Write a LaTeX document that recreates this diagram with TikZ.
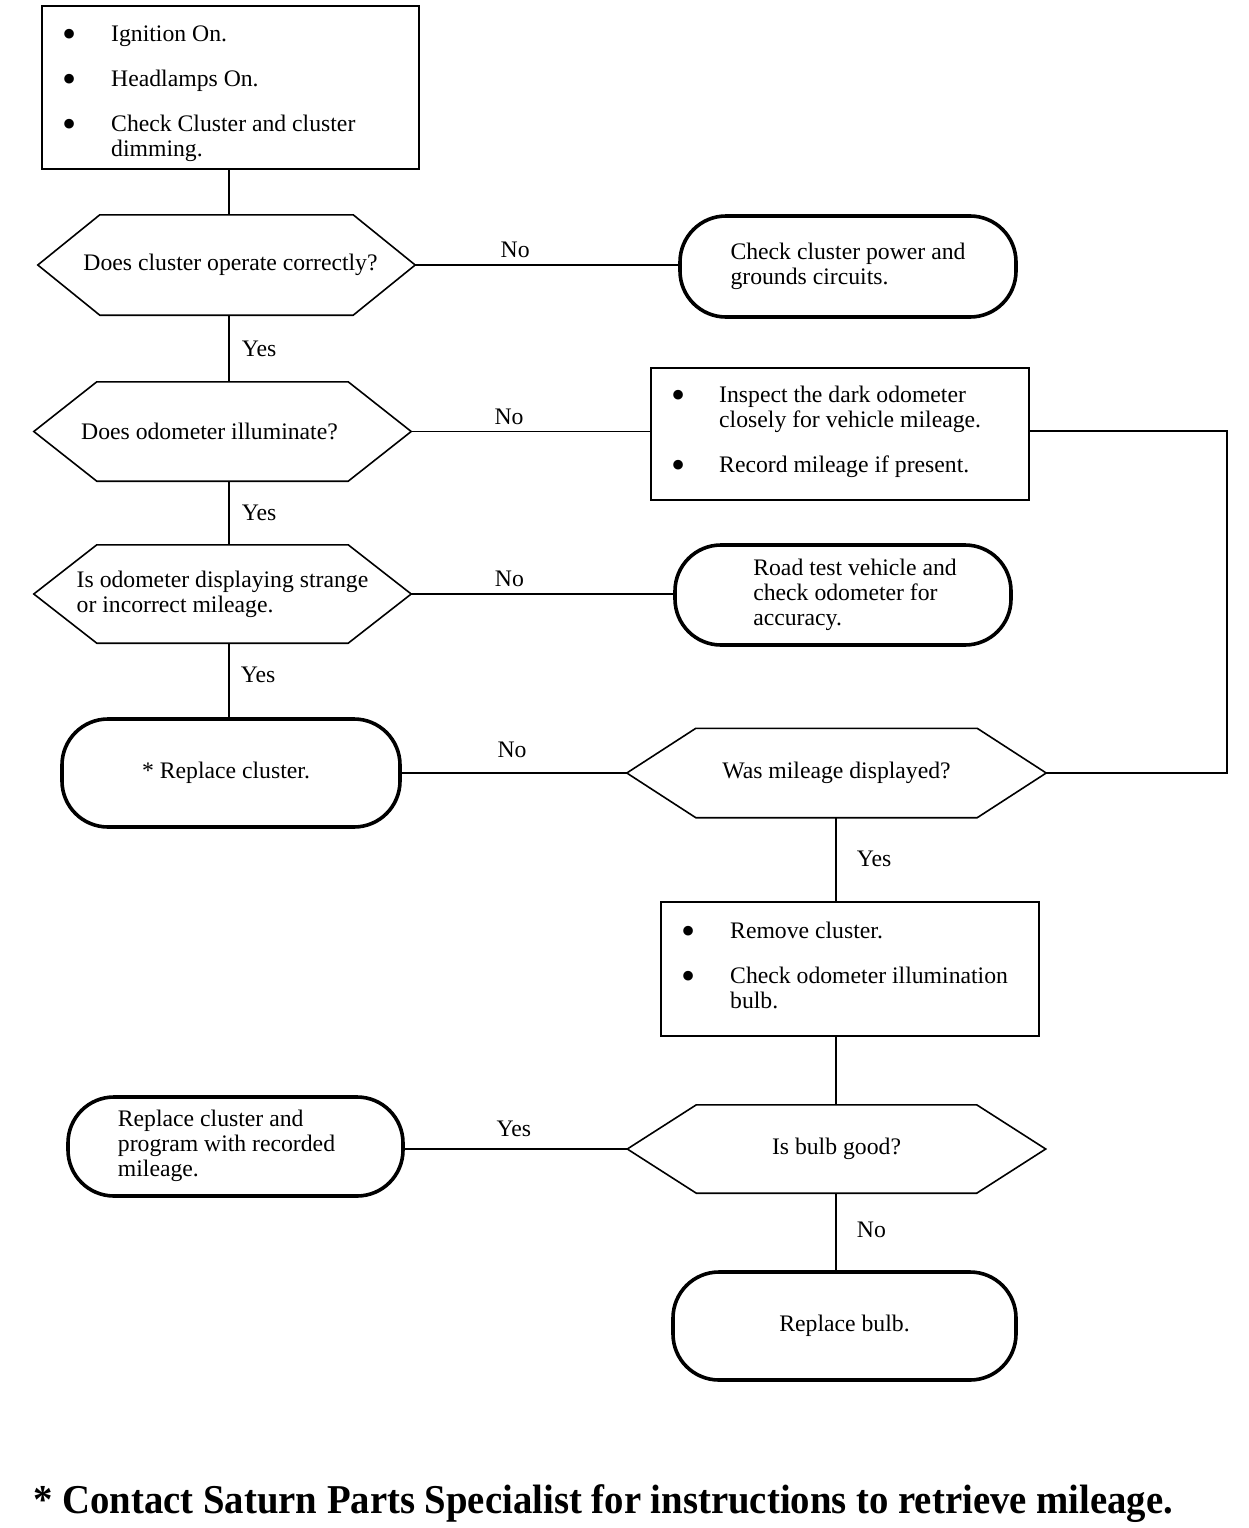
\documentclass[tikz,border=0pt]{standalone}
\usepackage{fontspec}
\setmainfont{Liberation Serif}
\usetikzlibrary{calc}
\newcommand\bul{\raisebox{-0.28em}{\scalebox{1.7}{\textbullet}}}
\newcommand\hexdraw[2]{\draw[hexline] (#1.west) -- ([xshift=#2]#1.north west) -- ([xshift=-#2]#1.north east) -- (#1.east) -- ([xshift=-#2]#1.south east) -- ([xshift=#2]#1.south west) -- cycle;}
\begin{document}
\begin{tikzpicture}[x=1pt,y=-1pt,
  every node/.style={font=\fontsize{23.7}{25}\selectfont},
  frame/.style={draw, line width=2.2pt, rectangle, inner sep=0pt},
  btext/.style={anchor=base west, inner sep=0pt, align=flush left},
  term/.style={draw, line width=3.6pt, rectangle, rounded corners=46pt, inner sep=0pt, align=flush left},
  hexn/.style={rectangle, inner sep=0pt, align=flush left},
  hexline/.style={line width=1.6pt, line join=miter},
  conn/.style={line width=1.9pt},
  lab/.style={inner sep=2pt}]
\useasboundingbox (0,0) rectangle (1248,1528);

% boxes
\node[frame, minimum width=377pt, minimum height=163pt] (b1) at (230.5,87.5) {};
\node[btext] (b1t) at (62,156)
 {\makebox[49pt][l]{\bul}Ignition On.\\[20pt]
  \makebox[49pt][l]{\bul}Headlamps On.\\[20pt]
  \makebox[49pt][l]{\bul}Check Cluster and cluster\\
  \hspace*{49pt}dimming.};
\node[frame, minimum width=378pt, minimum height=132pt] (b2) at (840,434) {};
\node[btext] (b2t) at (671,472)
 {\makebox[48pt][l]{\bul}Inspect the dark odometer\\
  \hspace*{48pt}closely for vehicle mileage.\\[20pt]
  \makebox[48pt][l]{\bul}Record mileage if present.};
\node[frame, minimum width=378pt, minimum height=134pt] (b3) at (850,969) {};
\node[btext] (b3t) at (681,1008)
 {\makebox[49pt][l]{\bul}Remove cluster.\\[20pt]
  \makebox[49pt][l]{\bul}Check odometer illumination\\
  \hspace*{49pt}bulb.};

% decisions
\node[hexn, minimum width=377pt, minimum height=100pt] (h1) at (226.5,265) {\hspace*{8pt}Does cluster operate correctly?};
\hexdraw{h1}{62}
\node[hexn, minimum width=377pt, minimum height=99pt] (h2) at (222.5,431.5) {Does odometer illuminate?\hspace*{26pt}};
\hexdraw{h2}{63}
\node[hexn, minimum width=377pt, minimum height=98pt] (h3) at (222.5,594) {Is odometer displaying strange\\or incorrect mileage.};
\hexdraw{h3}{63}
\node[hexn, minimum width=419pt, minimum height=89pt] (h4) at (836.5,773) {Was mileage displayed?};
\hexdraw{h4}{69}
\node[hexn, minimum width=418pt, minimum height=88pt] (h5) at (836.5,1149) {Is bulb good?};
\hexdraw{h5}{69}

% terminals
\node[term, minimum width=336pt, minimum height=101pt] (t1) at (848,266.5) {Check cluster power and\\grounds circuits.};
\node[term, minimum width=336pt, minimum height=100pt] (t2) at (843,595) {\hspace*{24pt}\raisebox{-5pt}{\begin{tabular}{@{}l@{}}Road test vehicle and\\check odometer for\\accuracy.\end{tabular}}};
\node[term, minimum width=338pt, minimum height=108pt] (t3) at (231,773) {* Replace cluster.\hspace*{10pt}};
\node[term, minimum width=335pt, minimum height=99pt] (t4) at (235.5,1146.5) {\begin{tabular}{@{}l@{}}Replace cluster and\\program with recorded\\mileage.\end{tabular}\hspace*{18pt}};
\node[term, minimum width=343pt, minimum height=108pt] (t5) at (844.5,1326) {Replace bulb.};

% connectors
\coordinate (colA) at (229,0);
\coordinate (colB) at (836,0);
\coordinate (rr) at (1227,431);
\draw[conn] (colA |- b1.south) -- (colA |- h1.north);
\draw[conn] (h1.east) -- node[lab, pos=.38, above, yshift=4pt] {No} (h1.east -| t1.west);
\draw[conn] (colA |- h1.south) -- node[lab, anchor=west, xshift=10pt] {Yes} (colA |- h2.north);
\draw[conn] (h2.east) -- node[lab, pos=.41, above, yshift=4pt] {No} (h2.east -| b2.west);
\draw[conn] (rr -| b2.east) -- (rr) |- (h4.east);
\draw[conn] (colA |- h2.south) -- node[lab, anchor=west, xshift=10pt] {Yes} (colA |- h3.north);
\draw[conn] (h3.east) -- node[lab, pos=.375, above, yshift=4pt] {No} (h3.east -| t2.west);
\draw[conn] (colA |- h3.south) -- node[lab, anchor=west, xshift=9pt, yshift=5pt] {Yes} (colA |- t3.north);
\draw[conn] (h4.west) -- node[lab, pos=.51, above, yshift=12pt] {No} (h4.west -| t3.east);
\draw[conn] (colB |- h4.south) -- node[lab, anchor=west, xshift=18pt] {Yes} (colB |- b3.north);
\draw[conn] (colB |- b3.south) -- (colB |- h5.north);
\draw[conn] (h5.west) -- node[lab, pos=.51, above, yshift=9pt] {Yes} (h5.west -| t4.east);
\draw[conn] (colB |- h5.south) -- node[lab, anchor=west, xshift=18pt, yshift=2pt] {No} (colB |- t5.north);

% footnote
\node[anchor=base west, inner sep=0pt, font=\bfseries\fontsize{41}{41}\selectfont] (foot) at (33,1513)
 {\scalebox{0.945}[1]{* Contact Saturn Parts Specialist for instructions to retrieve mileage.}};
\end{tikzpicture}
\end{document}
